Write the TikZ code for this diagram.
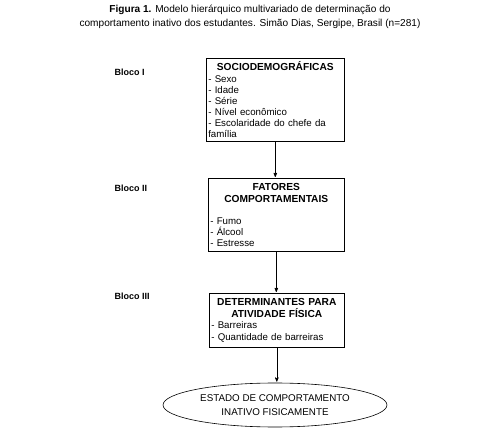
\documentclass[tikz,border=0pt]{standalone}
\usepackage{fontspec}
\setmainfont{Liberation Sans}
\usetikzlibrary{arrows}
\usetikzlibrary{positioning}
\usetikzlibrary{shapes.geometric}

\newcommand{\blockhead}[1]{\makebox[\linewidth]{\fontsize{10.2}{12}\selectfont\bfseries #1}}

\begin{document}
\begin{tikzpicture}[x=1pt,y=-1pt,->,>=stealth',shorten >=1pt,line width=0.6pt,
  block node/.style={draw,rectangle,anchor=north west,inner sep=2pt,align=left,font=\fontsize{9.7}{11.1}\selectfont},
  level node/.style={anchor=west,font=\bfseries\fontsize{9}{10}\selectfont},
  end node/.style={draw,ellipse,minimum width=224pt,minimum height=44pt,align=center,font=\fontsize{9.8}{13.5}\selectfont}]

  \useasboundingbox (0,0) rectangle (499,433);

  \node (title) at (250,17) [align=center,font=\fontsize{10.1}{14}\selectfont]
    {\textbf{Figura 1.} Modelo hierárquico multivariado de determinação do\\comportamento inativo dos estudantes. Simão Dias, Sergipe, Brasil (n=281)};

  \node[block node,text width=134pt,minimum height=83pt] (1) at (206,58)
    {\blockhead{SOCIODEMOGRÁFICAS}\\- Sexo\\- Idade\\- Série\\- Nível econômico\\- Escolaridade do chefe da\\família};
  \node[block node,text width=132pt,minimum height=73pt] (2) at (208,178)
    {\blockhead{FATORES}\\[1pt]\blockhead{COMPORTAMENTAIS}\\[11pt]- Fumo\\- Álcool\\- Estresse};
  \node[block node,text width=131pt,minimum height=54pt] (3) at (209,293)
    {\blockhead{DETERMINANTES PARA}\\[1pt]\blockhead{ATIVIDADE FÍSICA}\\- Barreiras\\- Quantidade de barreiras};
  \node[end node] (4) at (275,405) {ESTADO DE COMPORTAMENTO\\INATIVO FISICAMENTE};

  \node[level node] (1a) at (111,72) {Bloco I};
  \node[level node] (2a) at (111,188) {Bloco II};
  \node[level node] (3a) at (111,296) {Bloco III};

  \draw (1.south) -- (1.south |- 2.north);
  \draw (2.south) -- (2.south |- 3.north);
  \draw (3.south) -- (3.south |- 4.north);
\end{tikzpicture}
\end{document}
